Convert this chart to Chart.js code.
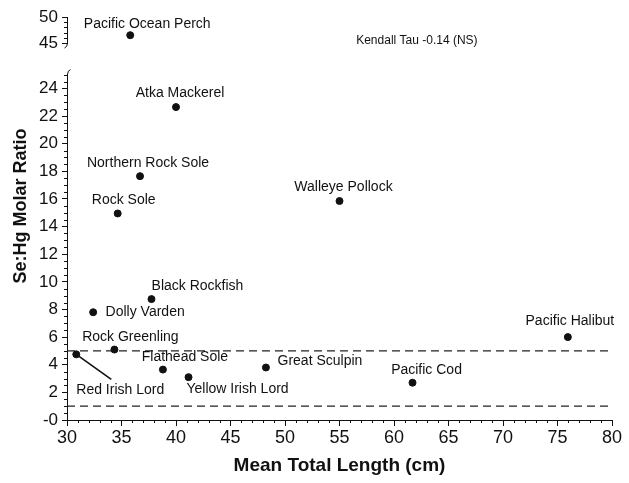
<!DOCTYPE html>
<html>
<head>
<meta charset="utf-8">
<script src="https://cdn.jsdelivr.net/npm/chart.js@4.4.1/dist/chart.umd.min.js"></script>
<style>
  html, body { margin: 0; padding: 0; background: #fff; }
  #wrap { width: 629px; height: 483px; }
</style>
</head>
<body>
<div id="wrap"><canvas id="chart"></canvas></div>
<script>
// values
const species = [
  "Pacific Ocean Perch", "Atka Mackerel", "Northern Rock Sole", "Rock Sole",
  "Walleye Pollock", "Black Rockfish", "Dolly Varden", "Rock Greenling",
  "Red Irish Lord", "Flathead Sole", "Yellow Irish Lord", "Great Sculpin",
  "Pacific Cod", "Pacific Halibut"
];
const lengthCm  = [35.8, 40.0, 36.7, 34.65, 55.0, 37.75, 32.4, 34.35, 30.85, 38.8, 41.15, 48.25, 61.7, 75.95];
const seHgRatio = [46.5, 22.65, 17.65, 14.95, 15.85, 8.75, 7.8, 5.1, 4.75, 3.65, 3.1, 3.8, 2.7, 6.0];
const refLevels = [5, 1];
const xTicks = [30, 35, 40, 45, 50, 55, 60, 65, 70, 75, 80];
const yLowTicks = [0, 2, 4, 6, 8, 10, 12, 14, 16, 18, 20, 22, 24];
const yHighTicks = [45, 50];
const statText = "Kendall Tau -0.14 (NS)";
const xTitle = "Mean Total Length (cm)";
const yTitle = "Se:Hg Molar Ratio";
const BREAK_AT = 30; // ratios above this sit on the upper axis piece

// label placement (pixel offsets of the label centre from its dot)
const labelOffsets = {
  "Pacific Ocean Perch": [17, -11],
  "Atka Mackerel": [4, -14],
  "Northern Rock Sole": [8, -13],
  "Rock Sole": [6, -13],
  "Walleye Pollock": [4, -14],
  "Black Rockfish": [46, -13],
  "Dolly Varden": [52, 0],
  "Rock Greenling": [16, -12],
  "Red Irish Lord": [44, 36],
  "Flathead Sole": [22, -12],
  "Yellow Irish Lord": [49, 12],
  "Great Sculpin": [54, -6],
  "Pacific Cod": [14, -13],
  "Pacific Halibut": [2, -16]
};
const leaders = { "Red Irish Lord": [35, 25] };

const FONT = "'Liberation Sans', Arial, sans-serif";
const INK = "#111";

const lowPts = [], highPts = [];
species.forEach((name, i) => {
  const p = { x: lengthCm[i], y: seHgRatio[i], name };
  (seHgRatio[i] > BREAK_AT ? highPts : lowPts).push(p);
});

const refSets = refLevels.map(v => ({
  type: "line",
  data: [{ x: xTicks[0], y: v }, { x: xTicks[xTicks.length - 1], y: v }],
  yAxisID: "y",
  borderColor: "#222",
  borderWidth: 1.3,
  borderDash: [8, 5],
  pointRadius: 0,
  fill: false
}));

function drawMinor(ctx, scale, from, to, step, majorStep, len, horizontal) {
  ctx.beginPath();
  for (let v = from; v <= to + 1e-9; v += step) {
    const r = v / majorStep;
    if (Math.abs(r - Math.round(r)) < 1e-6) continue;
    const p = Math.round(scale.getPixelForValue(v)) + 0.5;
    if (horizontal) { ctx.moveTo(p, scale.top); ctx.lineTo(p, scale.top + len); }
    else { ctx.moveTo(scale.right - len, p); ctx.lineTo(scale.right, p); }
  }
  ctx.stroke();
}

const decor = {
  id: "decor",
  afterDraw(chart) {
    const { ctx, scales } = chart;
    const { x, y, y2 } = scales;
    ctx.save();
    ctx.strokeStyle = INK;
    ctx.lineWidth = 1;
    drawMinor(ctx, x, 30, 80, 1, 5, 3, true);
    drawMinor(ctx, y, 0, 25, 0.5, 2, 3, false);
    drawMinor(ctx, y2, 45, 50, 1, 5, 3, false);

    // axis break hooks
    const ax = y.right + 0.5;
    ctx.beginPath();
    ctx.moveTo(ax, y2.bottom);
    ctx.quadraticCurveTo(ax, y2.bottom + 4, ax - 3, y2.bottom + 5);
    ctx.moveTo(ax, y.top);
    ctx.quadraticCurveTo(ax, y.top - 4, ax + 3, y.top - 5);
    ctx.stroke();

    // point labels
    ctx.fillStyle = INK;
    ctx.font = "14px " + FONT;
    ctx.textAlign = "center";
    ctx.textBaseline = "middle";
    const put = (pts, ys) => pts.forEach(p => {
      const px = x.getPixelForValue(p.x), py = ys.getPixelForValue(p.y);
      const off = labelOffsets[p.name] || [0, -14];
      ctx.fillText(p.name, px + off[0], py + off[1]);
      const ld = leaders[p.name];
      if (ld) {
        ctx.beginPath();
        ctx.lineWidth = 1.6;
        ctx.moveTo(px, py);
        ctx.lineTo(px + ld[0], py + ld[1]);
        ctx.stroke();
      }
    });
    put(lowPts, y);
    put(highPts, y2);

    // statistic note
    ctx.font = "12px " + FONT;
    ctx.fillText(statText, x.getPixelForValue(62.1), y2.getPixelForValue(45.4));

    // y title spans both axis pieces
    ctx.font = "bold 18px " + FONT;
    ctx.translate(21, 206);
    ctx.rotate(-Math.PI / 2);
    ctx.fillText(yTitle, 0, 0);
    ctx.restore();
  }
};

const axisCommon = {
  border: { color: INK, width: 1 },
  grid: { drawOnChartArea: false, drawTicks: true, tickLength: 5, color: INK }
};

new Chart(document.getElementById("chart"), {
  type: "scatter",
  data: {
    datasets: [
      { data: lowPts, yAxisID: "y", backgroundColor: INK, borderColor: INK, pointRadius: 3.5, pointHoverRadius: 3.5 },
      { data: highPts, yAxisID: "y2", backgroundColor: INK, borderColor: INK, pointRadius: 3.5, pointHoverRadius: 3.5 },
      ...refSets
    ]
  },
  options: {
    responsive: true,
    maintainAspectRatio: false,
    animation: false,
    events: [],
    layout: { padding: { top: 17, right: 17, left: 0, bottom: 0 } },
    plugins: { legend: { display: false }, tooltip: { enabled: false } },
    scales: {
      x: {
        type: "linear",
        min: 30, max: 80,
        ...axisCommon,
        grid: { ...axisCommon.grid, tickLength: 6 },
        afterBuildTicks: s => { s.ticks = xTicks.map(v => ({ value: v })); },
        afterFit: s => { s.height = 63; },
        ticks: { color: INK, font: { size: 18, family: FONT }, padding: 1, maxRotation: 0, autoSkip: false },
        title: { display: true, text: xTitle, color: INK, font: { size: 19, weight: "bold", family: FONT }, padding: { top: 0, bottom: 6 } }
      },
      y: {
        type: "linear",
        position: "left",
        stack: "ys",
        stackWeight: 345.4,
        min: 0, max: 25,
        ...axisCommon,
        afterBuildTicks: s => { s.ticks = yLowTicks.map(v => ({ value: v })); },
        afterFit: s => { s.width = 67; },
        ticks: { color: INK, font: { size: 17, family: FONT }, padding: 4, autoSkip: false, callback: v => (v === 0 ? "-0" : String(v)) }
      },
      ygap: {
        type: "linear",
        position: "left",
        stack: "ys",
        stackWeight: 31.6,
        display: false
      },
      y2: {
        type: "linear",
        position: "left",
        stack: "ys",
        stackWeight: 26,
        min: 45, max: 50,
        ...axisCommon,
        afterBuildTicks: s => { s.ticks = yHighTicks.map(v => ({ value: v })); },
        afterFit: s => { s.width = 67; },
        ticks: { color: INK, font: { size: 17, family: FONT }, padding: 4, autoSkip: false }
      }
    }
  },
  plugins: [decor]
});
</script>
</body>
</html>
